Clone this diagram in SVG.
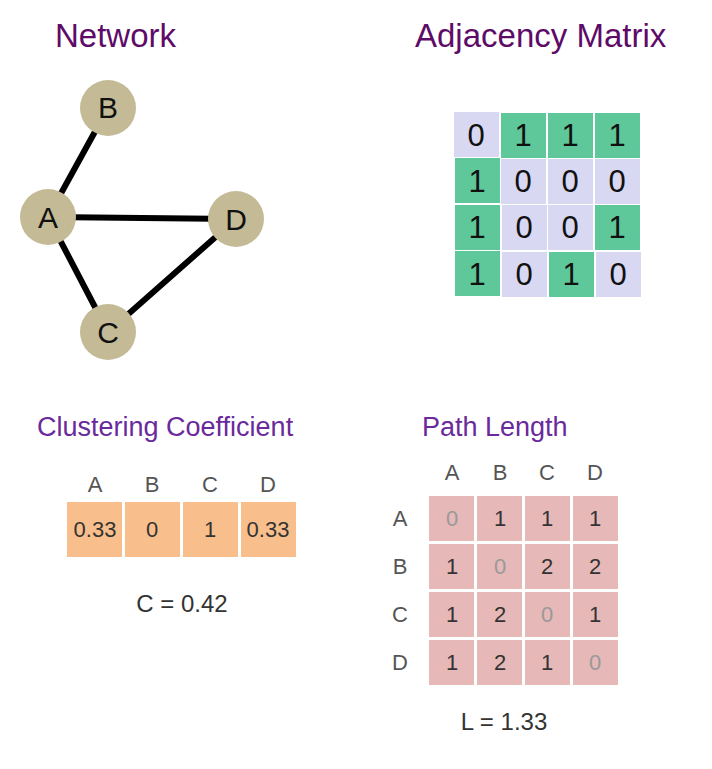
<svg xmlns="http://www.w3.org/2000/svg" width="712" height="769" viewBox="0 0 712 769">
<style>
text{font-family:"Liberation Sans",Arial,sans-serif}
.t1{font-size:33px;fill:#5e0b68}
.t2{font-size:27px;fill:#6a2a9c}
.g{fill:#5fc89a}.l{fill:#d8d8f2}
.an{font-size:31px;fill:#111;text-anchor:middle}
.o{fill:#f8bf8c}.p{fill:#e6b8b8}
.n{font-size:22px;fill:#333;text-anchor:middle}
.h{font-size:22px;fill:#555;text-anchor:middle}
.z{fill:#999}
.node circle{fill:#c4bb96}
.node text{font-size:30px;fill:#111;text-anchor:middle}
</style>
<rect width="712" height="769" fill="#fff"/>
<text class="t1" x="55" y="47">Network</text>
<text class="t1" x="415" y="47">Adjacency Matrix</text>
<g id="connectors" stroke="#000" stroke-width="6" stroke-linecap="round">
<line x1="108" y1="108" x2="48" y2="217"/>
<line x1="48" y1="217" x2="236" y2="219"/>
<line x1="48" y1="217" x2="108" y2="332"/>
<line x1="108" y1="332" x2="236" y2="219"/>
</g>
<g id="node-B" class="node"><circle cx="108" cy="108" r="28"/><text x="108" y="118">B</text></g>
<g id="node-A" class="node"><circle cx="48" cy="217" r="28"/><text x="48" y="228">A</text></g>
<g id="node-D" class="node"><circle cx="236" cy="219" r="28"/><text x="236" y="230">D</text></g>
<g id="node-C" class="node"><circle cx="108" cy="332" r="28"/><text x="108" y="343">C</text></g>
<g id="adjacency">
<rect class="l" x="454" y="112" width="45" height="45"/><rect class="g" x="501" y="113" width="45" height="45"/><rect class="g" x="548" y="113" width="45" height="45"/><rect class="g" x="595" y="113" width="45" height="45"/>
<rect class="g" x="455" y="158" width="45" height="45"/><rect class="l" x="501" y="159" width="45" height="45"/><rect class="l" x="548" y="159" width="45" height="45"/><rect class="l" x="595" y="159" width="45" height="45"/>
<rect class="g" x="455" y="205" width="45" height="45"/><rect class="l" x="502" y="205" width="45" height="45"/><rect class="l" x="548" y="205" width="45" height="45"/><rect class="g" x="595" y="205" width="45" height="45"/>
<rect class="g" x="455" y="251" width="45" height="45"/><rect class="l" x="502" y="252" width="45" height="45"/><rect class="g" x="549" y="252" width="45" height="45"/><rect class="l" x="596" y="252" width="45" height="45"/>
<text class="an" x="476" y="146">0</text><text class="an" x="523" y="146">1</text><text class="an" x="570" y="146">1</text><text class="an" x="617" y="146">1</text>
<text class="an" x="477" y="192">1</text><text class="an" x="523" y="192">0</text><text class="an" x="570" y="192">0</text><text class="an" x="617" y="192">0</text>
<text class="an" x="477" y="238">1</text><text class="an" x="524" y="238">0</text><text class="an" x="570" y="238">0</text><text class="an" x="617" y="238">1</text>
<text class="an" x="477" y="285">1</text><text class="an" x="524" y="285">0</text><text class="an" x="571" y="285">1</text><text class="an" x="618" y="285">0</text>
</g>
<text class="t2" x="37" y="436">Clustering Coefficient</text>
<g id="clustering">
<text class="h" x="95" y="492">A</text><text class="h" x="152" y="492">B</text><text class="h" x="210" y="492">C</text><text class="h" x="268" y="492">D</text>
<rect class="o" x="67" y="502" width="55" height="55"/><rect class="o" x="125" y="502" width="55" height="55"/><rect class="o" x="183" y="502" width="55" height="55"/><rect class="o" x="241" y="502" width="55" height="55"/>
<text class="n" x="95" y="537">0.33</text><text class="n" x="152" y="537">0</text><text class="n" x="210" y="537">1</text><text class="n" x="268" y="537">0.33</text>
<text x="182" y="612" font-size="24" fill="#333" text-anchor="middle">C = 0.42</text>
</g>
<text class="t2" x="422" y="436">Path Length</text>
<g id="pathlength">
<text class="h" x="452" y="480">A</text><text class="h" x="500" y="480">B</text><text class="h" x="547" y="480">C</text><text class="h" x="595" y="480">D</text>
<text class="h" x="400" y="526">A</text><text class="h" x="400" y="574">B</text><text class="h" x="400" y="622">C</text><text class="h" x="400" y="670">D</text>
<rect class="p" x="429" y="496" width="45" height="45"/><rect class="p" x="477" y="496" width="45" height="45"/><rect class="p" x="525" y="496" width="45" height="45"/><rect class="p" x="573" y="496" width="45" height="45"/>
<rect class="p" x="429" y="544" width="45" height="45"/><rect class="p" x="477" y="544" width="45" height="45"/><rect class="p" x="525" y="544" width="45" height="45"/><rect class="p" x="573" y="544" width="45" height="45"/>
<rect class="p" x="429" y="592" width="45" height="45"/><rect class="p" x="477" y="592" width="45" height="45"/><rect class="p" x="525" y="592" width="45" height="45"/><rect class="p" x="573" y="592" width="45" height="45"/>
<rect class="p" x="429" y="640" width="45" height="45"/><rect class="p" x="477" y="640" width="45" height="45"/><rect class="p" x="525" y="640" width="45" height="45"/><rect class="p" x="573" y="640" width="45" height="45"/>
<text class="n z" x="452" y="526">0</text><text class="n" x="500" y="526">1</text><text class="n" x="547" y="526">1</text><text class="n" x="595" y="526">1</text>
<text class="n" x="452" y="574">1</text><text class="n z" x="500" y="574">0</text><text class="n" x="547" y="574">2</text><text class="n" x="595" y="574">2</text>
<text class="n" x="452" y="622">1</text><text class="n" x="500" y="622">2</text><text class="n z" x="547" y="622">0</text><text class="n" x="595" y="622">1</text>
<text class="n" x="452" y="670">1</text><text class="n" x="500" y="670">2</text><text class="n" x="547" y="670">1</text><text class="n z" x="595" y="670">0</text>
<text x="504" y="730" font-size="24" fill="#333" text-anchor="middle">L = 1.33</text>
</g>
</svg>
